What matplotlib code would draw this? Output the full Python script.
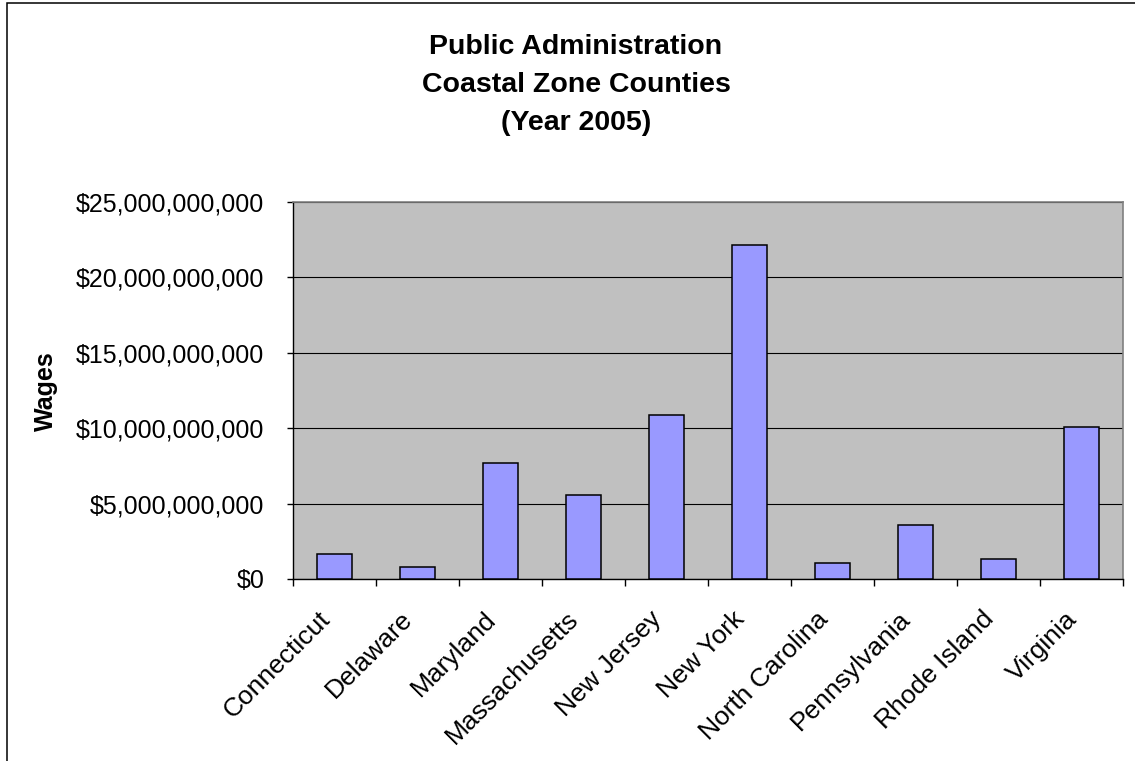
import matplotlib
matplotlib.use("Agg")
import matplotlib.pyplot as plt
from matplotlib.ticker import FuncFormatter, FixedLocator
from matplotlib.patches import Rectangle

# Public administration wages by state, coastal zone counties, 2005 (USD)
states = ["Connecticut", "Delaware", "Maryland", "Massachusetts", "New Jersey",
          "New York", "North Carolina", "Pennsylvania", "Rhode Island", "Virginia"]
wages = [1.66e9, 0.82e9, 7.72e9, 5.59e9, 10.90e9,
         22.17e9, 1.08e9, 3.56e9, 1.33e9, 10.07e9]
y_ticks = [0, 5e9, 10e9, 15e9, 20e9, 25e9]

title_lines = ["Public Administration", "Coastal Zone Counties", "(Year 2005)"]
y_label = "Wages"

plt.rcParams["font.family"] = ["Liberation Sans", "DejaVu Sans"]

W, H = 1135, 761
fig = plt.figure(figsize=(W / 100, H / 100), dpi=100)
fig.patch.set_facecolor("white")

# plot area in pixel coordinates
left, right, top, bottom = 293, 1123, 202, 579
ax = fig.add_axes([left / W, 1 - bottom / H, (right - left) / W, (bottom - top) / H])
ax.set_facecolor("#C0C0C0")

x = list(range(len(states)))
ax.bar(x, wages, width=0.41, color="#9999FF", edgecolor="black", linewidth=1.1, zorder=3)

ax.set_xlim(-0.5, len(states) - 0.5)
ax.set_ylim(y_ticks[0], y_ticks[-1])
ax.yaxis.set_major_locator(FixedLocator(y_ticks))
ax.yaxis.set_major_formatter(FuncFormatter(lambda v, p: "${:,.0f}".format(v)))
ax.grid(axis="y", color="black", linewidth=0.8, zorder=1)
ax.set_axisbelow(True)

for s in ("top", "right"):
    ax.spines[s].set_color("#808080")
    ax.spines[s].set_linewidth(1.2)
for s in ("left", "bottom"):
    ax.spines[s].set_color("black")
    ax.spines[s].set_linewidth(1.0)

ax.tick_params(axis="y", direction="out", length=4.5, width=1, pad=16, labelsize=18)
ax.set_xticks(x)
ax.set_xticklabels(states, rotation=45, ha="right", va="top", fontsize=19)
ax.tick_params(axis="x", which="major", length=0, pad=20)
ax.set_xticks([i - 0.5 for i in range(len(states) + 1)], minor=True)
ax.tick_params(axis="x", which="minor", direction="out", length=5, width=1)

fig.text(46 / W, 1 - 391 / H, y_label, rotation=90, ha="center", va="center",
         fontsize=18, fontweight="bold")

fig.text(576 / W, 1 - 34 / H, "\n".join(title_lines), ha="center", va="top",
         fontsize=20.5, fontweight="bold", linespacing=1.6)

# chart area border
fig.patches.append(Rectangle((7 / W, -0.05), 1.2, 1 - 3 / H + 0.05,
                             transform=fig.transFigure, fill=False,
                             edgecolor="black", linewidth=1.1))

fig.savefig("out.png", dpi=100)
